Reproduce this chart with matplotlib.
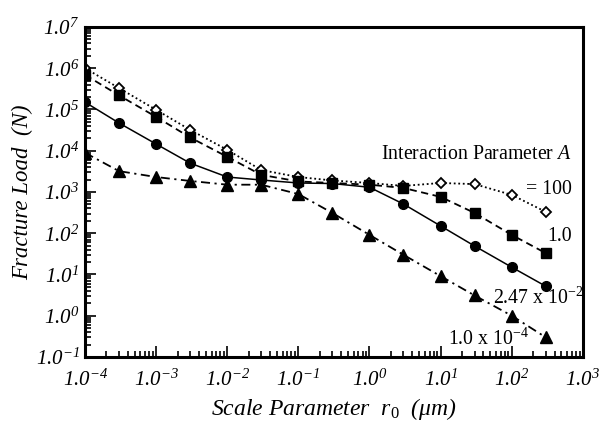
import math
import matplotlib
matplotlib.use("Agg")
import matplotlib.pyplot as plt
from matplotlib.ticker import FuncFormatter, LogLocator

plt.rcParams['font.family'] = ['Liberation Serif', 'DejaVu Serif']
plt.rcParams['mathtext.fontset'] = 'custom'
# rm is italic for the tick labels, sf stays upright for the notes
plt.rcParams['mathtext.rm'] = 'Liberation Serif:italic'
plt.rcParams['mathtext.it'] = 'Liberation Serif:italic'
plt.rcParams['mathtext.sf'] = 'Liberation Serif'

# scale parameter r0 (um)
r0 = [1e-4, 3e-4, 1e-3, 3e-3, 1e-2, 3e-2, 0.1, 0.3, 1, 3, 10, 30, 100, 300]

# fracture load (N) for each interaction parameter A
load_a100 = [1.0e6, 3.3e5, 9.8e4, 3.2e4, 1.05e4, 3.4e3, 2.3e3, 1.9e3, 1.65e3, 1.4e3, 1.65e3, 1.55e3, 8.5e2, 3.3e2]
load_a1 = [6.9e5, 2.2e5, 6.6e4, 2.1e4, 7.1e3, 2.6e3, 1.8e3, 1.65e3, 1.5e3, 1.25e3, 7.6e2, 3.1e2, 9.1e1, 3.3e1]
load_a247 = [1.5e5, 4.7e4, 1.45e4, 5.0e3, 2.3e3, 1.95e3, 1.65e3, 1.6e3, 1.3e3, 5.1e2, 1.5e2, 4.9e1, 1.5e1, 5.2]
load_a1e4 = [8.9e3, 3.2e3, 2.3e3, 1.85e3, 1.5e3, 1.5e3, 8.9e2, 3.1e2, 9.1e1, 3.0e1, 9.1, 3.1, 1.0, 0.3]

fig = plt.figure(figsize=(5.99, 4.28), dpi=100)
ax = fig.add_axes([0.142, 0.166, 0.831, 0.771])

ax.plot(r0, load_a100, linestyle=(0, (1, 1.5)), color="black", lw=1.3,
        marker="D", ms=5.5, mfc="white", mec="black", mew=1.3)
ax.plot(r0, load_a1, linestyle=(0, (4, 2.5)), color="black", lw=1.3,
        marker="s", ms=7.5, mfc="black", mec="black")
ax.plot(r0, load_a247, linestyle="-", color="black", lw=1.1,
        marker="o", ms=7, mfc="black", mec="black")
ax.plot(r0, load_a1e4, linestyle=(0, (5, 2.5, 1.2, 2.5)), color="black", lw=1.3,
        marker="^", ms=8, mfc="black", mec="black")

ax.set_xscale("log")
ax.set_yscale("log")
ax.set_xlim(1e-4, 1e3)
ax.set_ylim(1e-1, 1e7)

ax.xaxis.set_major_locator(LogLocator(base=10, numticks=20))
ax.yaxis.set_major_locator(LogLocator(base=10, numticks=20))
ax.xaxis.set_minor_locator(LogLocator(base=10, subs=range(2, 10), numticks=20))
ax.yaxis.set_minor_locator(LogLocator(base=10, subs=range(2, 10), numticks=20))


def fmt(v, pos):
    e = int(round(math.log10(v)))
    return r'$1.0^{%d}$' % e


ax.xaxis.set_major_formatter(FuncFormatter(fmt))
ax.yaxis.set_major_formatter(FuncFormatter(fmt))

ax.tick_params(which="both", direction="in", top=False, right=False, width=1.2)
ax.tick_params(which="major", length=8, labelsize=15)
ax.tick_params(which="minor", length=4)
ax.tick_params(axis="x", which="major", pad=9)
ax.tick_params(axis="y", which="major", pad=4)
for s in ax.spines.values():
    s.set_linewidth(2.2)

ax.set_xlabel(r'Scale Parameter  $r_{\mathsf{0}}$  $(\mu m)$', fontsize=17, style="italic", labelpad=4)
ax.set_ylabel("Fracture Load  (N)", fontsize=16.5, style="italic", labelpad=2)

ax.text(0.978, 0.612, r'Interaction Parameter $A$', transform=ax.transAxes,
        ha="right", va="center", fontsize=14.3)
ax.text(0.978, 0.506, "= 100", transform=ax.transAxes, ha="right", va="center", fontsize=14.3)
ax.text(0.978, 0.364, "1.0", transform=ax.transAxes, ha="right", va="center", fontsize=14.3)
ax.text(0.819, 0.179, r'2.47 x 10$^{\mathsf{-2}}$', transform=ax.transAxes,
        ha="left", va="center", fontsize=14.3)
ax.text(0.729, 0.055, r'1.0 x 10$^{\mathsf{-4}}$', transform=ax.transAxes,
        ha="left", va="center", fontsize=14.3)

fig.savefig("out.png", dpi=100)
